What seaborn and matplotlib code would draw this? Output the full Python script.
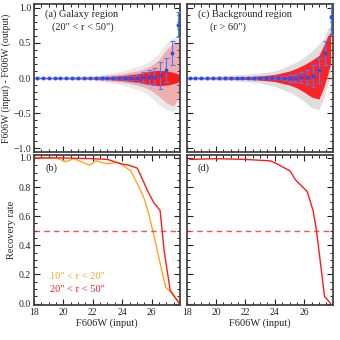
import numpy as np
import pandas as pd
import seaborn as sns
import matplotlib
matplotlib.use("Agg")
import matplotlib.pyplot as plt
from matplotlib.ticker import MultipleLocator

# ---------------- data ----------------
# binned mean offsets (blue points) for the top panels
bin_mag = [18.2, 18.6, 19.0, 19.4, 19.8, 20.2, 20.6, 21.0, 21.4, 21.8, 22.2, 22.6,
           23.0, 23.4, 23.8, 24.2, 24.6, 25.0, 25.4, 25.8, 26.2, 26.6, 27.0, 27.4, 27.8]
gal_mean = [0, 0, 0, 0, 0, 0, 0, 0, 0, 0, 0, 0,
            0, 0, 0, 0, 0, 0.0, 0.01, 0.01, 0.02, 0.04, 0.11, 0.35, 0.76]
gal_err = [0.004, 0.004, 0.004, 0.004, 0.004, 0.004, 0.004, 0.005, 0.005, 0.006, 0.007, 0.008,
           0.01, 0.012, 0.015, 0.025, 0.035, 0.05, 0.07, 0.10, 0.12, 0.19, 0.17, 0.17, 0.18]
bkg_mean = [0, 0, 0, 0, 0, 0, 0, 0, 0, 0, 0, 0,
            0, 0, 0, 0, 0, 0.0, 0.0, 0.01, 0.02, 0.03, 0.11, 0.35, 0.86]
bkg_err = [0.004, 0.004, 0.004, 0.004, 0.004, 0.004, 0.004, 0.004, 0.005, 0.005, 0.006, 0.007,
           0.008, 0.01, 0.015, 0.02, 0.03, 0.05, 0.06, 0.08, 0.10, 0.16, 0.18, 0.17, 0.25]

# envelopes of the individual artificial-star offsets
gal_env_mag = [18.0, 20.0, 22.0, 23.0, 24.0, 25.0, 25.5, 26.0, 26.5, 27.0, 27.5, 27.9]
gal_grey_hi = [0.015, 0.02, 0.03, 0.06, 0.10, 0.16, 0.20, 0.26, 0.35, 0.50, 0.58, 0.55]
gal_grey_lo = [-0.015, -0.02, -0.03, -0.06, -0.10, -0.16, -0.20, -0.28, -0.38, -0.45, -0.48, -0.35]
gal_red_hi = [0.01, 0.015, 0.02, 0.04, 0.06, 0.10, 0.13, 0.18, 0.26, 0.40, 0.50, 0.50]
gal_red_lo = [-0.01, -0.015, -0.02, -0.04, -0.06, -0.10, -0.13, -0.18, -0.26, -0.35, -0.40, -0.25]
gal_core_hi = [0.006, 0.008, 0.012, 0.02, 0.035, 0.06, 0.08, 0.10, 0.11, 0.10, 0.08, 0.05]
gal_core_lo = [-0.006, -0.008, -0.012, -0.02, -0.035, -0.06, -0.08, -0.10, -0.11, -0.10, -0.08, -0.05]

bkg_env_mag = [18.0, 20.0, 22.0, 23.0, 24.0, 25.0, 25.5, 26.0, 26.5, 27.0, 27.3, 27.6, 27.8]
bkg_grey_hi = [0.02, 0.03, 0.05, 0.07, 0.10, 0.18, 0.23, 0.30, 0.38, 0.48, 0.55, 0.70, 0.75]
bkg_grey_lo = [-0.02, -0.03, -0.05, -0.07, -0.12, -0.20, -0.26, -0.33, -0.42, -0.45, -0.30, -0.10, 0.0]
bkg_core_hi = [0.008, 0.012, 0.02, 0.03, 0.05, 0.10, 0.14, 0.19, 0.25, 0.32, 0.45, 0.60, 0.65]
bkg_core_lo = [-0.008, -0.012, -0.02, -0.03, -0.05, -0.10, -0.14, -0.20, -0.27, -0.30, -0.15, 0.05, 0.20]

# recovery rates
rec_b_in_mag = [18.0, 19.5, 20.2, 20.7, 21.8, 22.2, 23.0, 23.75, 24.6, 25.15, 25.5, 25.8, 26.2, 26.6, 26.97, 27.3, 27.9]
rec_b_in = [1.0, 1.0, 0.975, 0.995, 0.95, 0.98, 0.96, 0.97, 0.91, 0.80, 0.72, 0.62, 0.45, 0.27, 0.11, 0.08, 0.0]
rec_b_out_mag = [18.0, 20.0, 22.0, 23.0, 23.9, 24.46, 25.03, 25.44, 25.7, 26.17, 26.58, 26.86, 27.27, 27.9]
rec_b_out = [1.0, 1.0, 0.995, 0.99, 0.96, 0.95, 0.93, 0.84, 0.78, 0.69, 0.64, 0.36, 0.09, 0.0]
rec_d_mag = [18.2, 20.0, 22.0, 23.7, 24.14, 25.05, 25.4, 26.2, 26.6, 26.84, 27.38, 27.8]
rec_d = [0.99, 0.995, 0.99, 0.98, 0.96, 0.91, 0.85, 0.77, 0.64, 0.50, 0.05, 0.0]

# ---------------- style ----------------
sns.set_style("ticks")
plt.rcParams['font.family'] = ['Liberation Serif', 'DejaVu Serif']
plt.rcParams['font.size'] = 7

RED = '#ff1a1a'
ORANGE = '#ffa526'
BLUE = '#1e50ff'
EBLUE = '#4d7dff'
GREY = '#8a8a8a'

fig = plt.figure(figsize=(3.4, 3.4), dpi=100)
ax_a = fig.add_axes([0.100, 0.553, 0.430, 0.435])
ax_c = fig.add_axes([0.549, 0.553, 0.430, 0.435])
ax_b = fig.add_axes([0.100, 0.103, 0.430, 0.441])
ax_d = fig.add_axes([0.549, 0.103, 0.430, 0.441])


def style(ax, top):
    ax.set_xlim(18, 27.95)
    ax.xaxis.set_major_locator(MultipleLocator(2))
    ax.xaxis.set_minor_locator(MultipleLocator(0.5))
    if top:
        ax.set_ylim(-1.05, 1.05)
        ax.yaxis.set_major_locator(MultipleLocator(0.5))
        ax.yaxis.set_minor_locator(MultipleLocator(0.1))
    else:
        ax.set_ylim(-0.01, 1.02)
        ax.yaxis.set_major_locator(MultipleLocator(0.2))
        ax.yaxis.set_minor_locator(MultipleLocator(0.05))
    ax.tick_params(which='both', direction='in', top=True, right=True,
                   color='#222222', labelsize=7, pad=2)
    ax.tick_params(which='major', length=4, width=0.8)
    ax.tick_params(which='minor', length=2, width=0.7)
    for s in ax.spines.values():
        s.set_linewidth(1.3)
        s.set_color('#444444')


# top panels
for ax, env_mag, layers, mean, err in [
    (ax_a, gal_env_mag,
     [(gal_grey_lo, gal_grey_hi, GREY, 0.18), (gal_red_lo, gal_red_hi, RED, 0.28),
      (gal_core_lo, gal_core_hi, RED, 1.0)], gal_mean, gal_err),
    (ax_c, bkg_env_mag,
     [(bkg_grey_lo, bkg_grey_hi, GREY, 0.28), (bkg_core_lo, bkg_core_hi, RED, 0.95)],
     bkg_mean, bkg_err)]:
    for lo, hi, col, al in layers:
        ax.fill_between(env_mag, lo, hi, color=col, alpha=al, lw=0)
    ax.axhline(0, color=RED, ls=(0, (4, 3)), lw=1.0, alpha=0.75)
    ax.errorbar(bin_mag, mean, yerr=err, fmt='none', ecolor=EBLUE,
                elinewidth=0.8, capsize=1.8, capthick=0.8, zorder=4)
    df = pd.DataFrame({'mag': bin_mag, 'dm': mean})
    sns.scatterplot(data=df, x='mag', y='dm', ax=ax, color=BLUE, marker='o',
                    s=8, linewidth=0, zorder=5)
    style(ax, True)
    ax.set_xticklabels([])
    ax.set_xlabel('')
    ax.set_ylabel('')

ax_c.set_yticklabels([])
ax_a.set_ylabel('F606W (input) - F606W (output)', fontsize=7, labelpad=2)

ax_a.text(18.75, 0.87, '(a) Galaxy region', fontsize=7.5)
ax_a.text(19.2, 0.69, '(20" < r < 50")', fontsize=7.5)
ax_c.text(18.75, 0.87, '(c) Background region', fontsize=7.5)
ax_c.text(19.6, 0.69, '(r > 60")', fontsize=7.5)

# bottom panels
sns.lineplot(x=rec_b_in_mag, y=rec_b_in, ax=ax_b, color=ORANGE, lw=1.0, sort=False)
sns.lineplot(x=rec_b_out_mag, y=rec_b_out, ax=ax_b, color=RED, lw=1.0, sort=False)
sns.lineplot(x=rec_d_mag, y=rec_d, ax=ax_d, color=RED, lw=1.0, sort=False)
for ax in (ax_b, ax_d):
    ax.axhline(0.5, color=RED, ls=(0, (4, 3)), lw=1.0, alpha=0.75)
    style(ax, False)
    ax.set_xlabel('F606W (input)', fontsize=7.5, labelpad=1)
    ax.set_ylabel('')
ax_d.set_yticklabels([])
ax_b.set_ylabel('Recovery rate', fontsize=7.5, labelpad=2)

ax_b.text(18.75, 0.91, '(b)', fontsize=7.5)
ax_d.text(18.75, 0.91, '(d)', fontsize=7.5)
ax_b.text(19.1, 0.17, '10" < r < 20"', fontsize=7.5, color=ORANGE)
ax_b.text(19.1, 0.08, '20" < r < 50"', fontsize=7.5, color=RED)

fig.savefig('out.png', dpi=100)
